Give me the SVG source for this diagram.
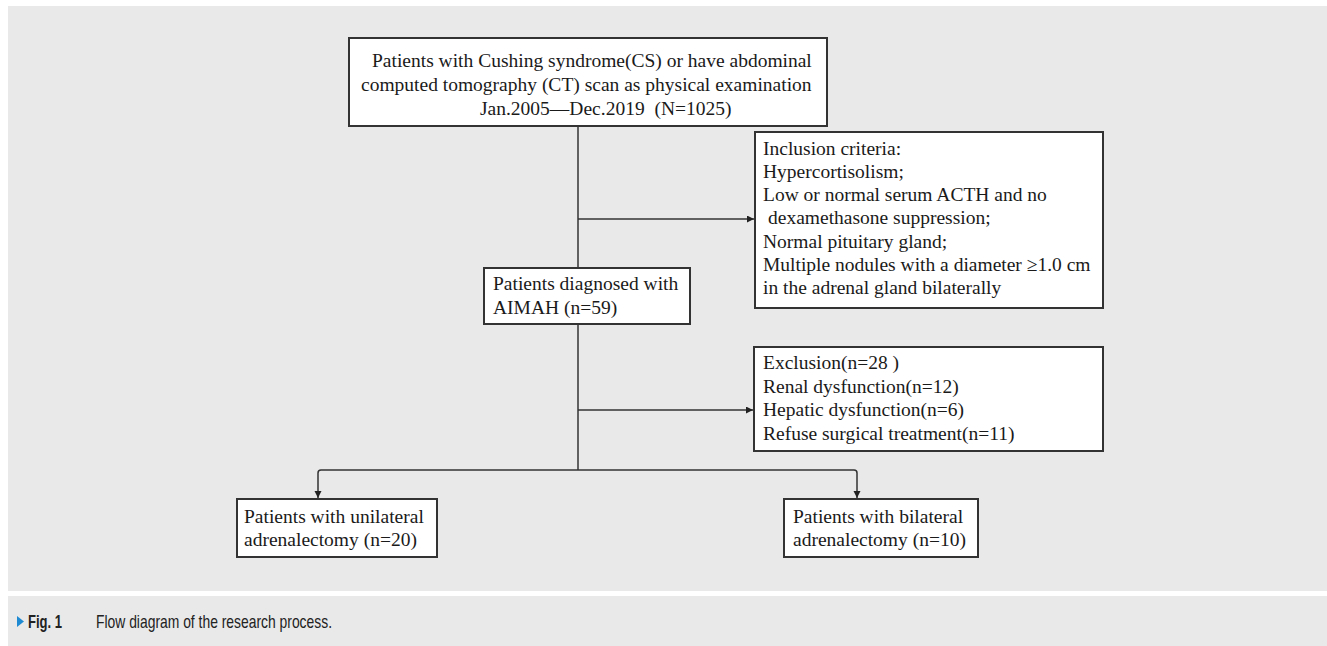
<svg xmlns="http://www.w3.org/2000/svg" width="1327" height="646" viewBox="0 0 1327 646">
  <defs>
    <style>
      .panel { fill: #e9e9e9; }
      .box { fill: #ffffff; stroke: #333333; stroke-width: 2; }
      .txt { font-family: "Liberation Serif", "Times New Roman", serif; font-size: 19.5px; fill: #1a1a1a; }
      .conn { fill: none; stroke: #333333; stroke-width: 1.5; }
      .cap { font-family: "Liberation Sans Narrow", "Liberation Sans", Arial, sans-serif; font-size: 18.5px; fill: #222222; }
    </style>
    <marker id="arr" markerUnits="userSpaceOnUse" markerWidth="8" markerHeight="8" refX="7" refY="3.5" orient="auto">
      <path d="M0,0 L7,3.5 L0,7 z" fill="#222222"/>
    </marker>
  </defs>

  <rect x="0" y="0" width="1327" height="646" fill="#ffffff"/>
  <rect class="panel" x="8" y="6" width="1319" height="585"/>
  <rect class="panel" x="8" y="596" width="1319" height="50"/>

  <g id="connectors">
    <line class="conn" x1="578" y1="126" x2="578" y2="268"/>
    <line class="conn" x1="578" y1="324" x2="578" y2="470"/>
    <line class="conn" x1="578" y1="219" x2="754" y2="219" marker-end="url(#arr)"/>
    <line class="conn" x1="578" y1="410" x2="753" y2="410" marker-end="url(#arr)"/>
    <path class="conn" d="M578,470 H321 Q318,470 318,473 V498" marker-end="url(#arr)"/>
    <path class="conn" d="M578,470 H854 Q857,470 857,473 V498" marker-end="url(#arr)"/>
  </g>

  <g id="node-start">
    <rect class="box" x="349" y="38" width="478" height="88"/>
    <text class="txt" x="372" y="67">Patients with Cushing syndrome(CS) or have abdominal</text>
    <text class="txt" x="361" y="91">computed tomography (CT) scan as physical examination</text>
    <text class="txt" x="480" y="115" xml:space="preserve">Jan.2005—Dec.2019  (N=1025)</text>
  </g>

  <g id="node-inclusion">
    <rect class="box" x="755" y="132" width="348" height="176"/>
    <text class="txt" x="763" y="154.5">Inclusion criteria:</text>
    <text class="txt" x="763" y="177.8">Hypercortisolism;</text>
    <text class="txt" x="763" y="201.1">Low or normal serum ACTH and no</text>
    <text class="txt" x="768" y="224.4">dexamethasone suppression;</text>
    <text class="txt" x="763" y="247.7">Normal pituitary gland;</text>
    <text class="txt" x="763" y="271">Multiple nodules with a diameter ≥1.0 cm</text>
    <text class="txt" x="763" y="294.3">in the adrenal gland bilaterally</text>
  </g>

  <g id="node-aimah">
    <rect class="box" x="484" y="268" width="206" height="56"/>
    <text class="txt" x="493" y="290">Patients diagnosed with</text>
    <text class="txt" x="493" y="314">AIMAH (n=59)</text>
  </g>

  <g id="node-exclusion">
    <rect class="box" x="754" y="347" width="349" height="104"/>
    <text class="txt" x="763" y="369">Exclusion(n=28 )</text>
    <text class="txt" x="763" y="392.5">Renal dysfunction(n=12)</text>
    <text class="txt" x="763" y="416">Hepatic dysfunction(n=6)</text>
    <text class="txt" x="763" y="439.5">Refuse surgical treatment(n=11)</text>
  </g>

  <g id="node-unilateral">
    <rect class="box" x="237" y="499" width="200" height="58"/>
    <text class="txt" x="244" y="523">Patients with unilateral</text>
    <text class="txt" x="244" y="546">adrenalectomy (n=20)</text>
  </g>

  <g id="node-bilateral">
    <rect class="box" x="784" y="499" width="194" height="58"/>
    <text class="txt" x="793" y="523">Patients with bilateral</text>
    <text class="txt" x="793" y="546">adrenalectomy (n=10)</text>
  </g>

  <g id="caption">
    <path d="M17,616 L24,621.5 L17,627 z" fill="#1e8ad2"/>
    <text class="cap" x="28" y="628" font-weight="bold" textLength="34" lengthAdjust="spacingAndGlyphs">Fig. 1</text>
    <text class="cap" x="96" y="628" textLength="236" lengthAdjust="spacingAndGlyphs">Flow diagram of the research process.</text>
  </g>
</svg>
